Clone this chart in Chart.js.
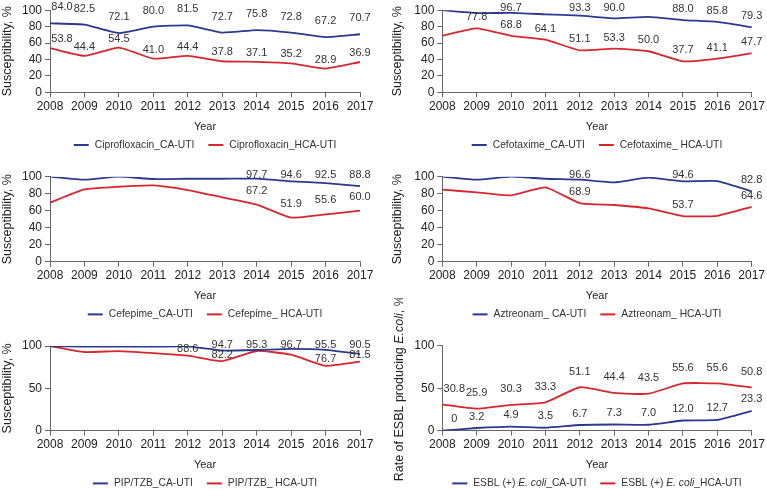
<!DOCTYPE html>
<html>
<head>
<meta charset="utf-8">
<script src="https://cdn.jsdelivr.net/npm/chart.js@4.4.0/dist/chart.umd.min.js"></script>
<style>
    body { margin: 0; background: #fff; }
    #wrap { position: relative; width: 767px; height: 490px; }
    .panel { position: absolute; }
</style>
</head>
<body>
<div id="wrap">
    <div class="panel" style="left:0;top:0;width:385px;height:160px"><canvas id="c1"></canvas></div>
    <div class="panel" style="left:385px;top:0;width:382px;height:160px"><canvas id="c2"></canvas></div>
    <div class="panel" style="left:0;top:160px;width:385px;height:160px"><canvas id="c3"></canvas></div>
    <div class="panel" style="left:385px;top:160px;width:382px;height:160px"><canvas id="c4"></canvas></div>
    <div class="panel" style="left:0;top:320px;width:385px;height:170px"><canvas id="c5"></canvas></div>
    <!-- taller so the long y title can reach up past the row -->
    <div class="panel" style="left:385px;top:298px;width:382px;height:192px"><canvas id="c6"></canvas></div>
</div>
<script>
var years = ['2008', '2009', '2010', '2011', '2012', '2013', '2014', '2015', '2016', '2017'];

// Ciprofloxacin
var cipCA = [84.0, 82.5, 72.1, 80.0, 81.5, 72.7, 75.8, 72.8, 67.2, 70.7];
var cipHCA = [53.8, 44.4, 54.5, 41.0, 44.4, 37.8, 37.1, 35.2, 28.9, 36.9];
var cipCALabels = ['84.0', '82.5', '72.1', '80.0', '81.5', '72.7', '75.8', '72.8', '67.2', '70.7'];
var cipHCALabels = ['53.8', '44.4', '54.5', '41.0', '44.4', '37.8', '37.1', '35.2', '28.9', '36.9'];

// Cefotaxime
var ctxCA = [100, 96.5, 96.7, 95.0, 93.3, 90.0, 91.8, 88.0, 85.8, 79.3];
var ctxHCA = [69.0, 77.8, 68.8, 64.1, 51.1, 53.3, 50.0, 37.7, 41.1, 47.7];
var ctxCALabels = [null, null, '96.7', null, '93.3', '90.0', null, '88.0', '85.8', '79.3'];
var ctxHCALabels = [null, '77.8', '68.8', '64.1', '51.1', '53.3', '50.0', '37.7', '41.1', '47.7'];

// Cefepime
var fepCA = [100, 96.5, 100, 97.3, 97.6, 97.6, 97.7, 94.6, 92.5, 88.8];
var fepHCA = [69.5, 85.0, 88.2, 89.8, 84.3, 75.7, 67.2, 51.9, 55.6, 60.0];
var fepCALabels = [null, null, null, null, null, null, '97.7', '94.6', '92.5', '88.8'];
var fepHCALabels = [null, null, null, null, null, null, '67.2', '51.9', '55.6', '60.0'];

// Aztreonam
var aztCA = [100, 96.5, 100, 97.6, 96.6, 93.3, 98.8, 94.6, 94.9, 82.8];
var aztHCA = [84.7, 81.6, 78.0, 87.5, 68.9, 66.7, 62.7, 53.7, 54.0, 64.6];
var aztCALabels = [null, null, null, null, '96.6', null, null, '94.6', null, '82.8'];
var aztHCALabels = [null, null, null, null, '68.9', null, null, '53.7', null, '64.6'];

// PIP/TZB
var pipCA = [100, 99.2, 99.2, 99.3, 99.5, 94.7, 95.3, 96.7, 95.5, 90.5];
var pipHCA = [100, 92.9, 94.0, 91.5, 88.6, 82.2, 94.1, 89.8, 76.7, 81.5];
var pipCALabels = [null, null, null, null, null, '94.7', '95.3', '96.7', '95.5', '90.5'];
var pipHCALabels = [null, null, null, null, '88.6', '82.2', null, null, '76.7', '81.5'];

// ESBL (+) E. coli
var esblCA = [0, 3.2, 4.9, 3.5, 6.7, 7.3, 7.0, 12.0, 12.7, 23.3];
var esblHCA = [30.8, 25.9, 30.3, 33.3, 51.1, 44.4, 43.5, 55.6, 55.6, 50.8];
var esblCALabels = ['0', '3.2', '4.9', '3.5', '6.7', '7.3', '7.0', '12.0', '12.7', '23.3'];
var esblHCALabels = ['30.8', '25.9', '30.3', '33.3', '51.1', '44.4', '43.5', '55.6', '55.6', '50.8'];

var CA_COLOR = '#2b3990';
var HCA_COLOR = '#d7262d';
var AXIS = '#666';
var TXT = '#222';
var FONT = '"Liberation Sans", Arial, sans-serif';

// value labels above the lines
var pointLabels = {
    id: 'pointLabels',
    afterDatasetsDraw: function (chart, args, opts) {
        var ctx = chart.ctx;
        ctx.save();
        ctx.font = '11px ' + FONT;
        ctx.fillStyle = '#333';
        ctx.textAlign = 'center';
        ctx.textBaseline = 'middle';
        chart.data.datasets.forEach(function (ds, i) {
            var meta = chart.getDatasetMeta(i);
            (ds.pointLabels || []).forEach(function (txt, j) {
                if (txt === null) return;
                var pt = meta.data[j];
                var x = pt.x + (j === 0 ? 12 : 0);
                var y = Math.max(pt.y - ds.labelOffset, opts.minY);
                ctx.fillText(txt, x, y);
            });
        });
        ctx.restore();
    }
};

function segFont(seg, size) {
    return (seg.italic ? 'italic ' : '') + size + 'px ' + FONT;
}

function segsWidth(ctx, segs, size) {
    var w = 0;
    segs.forEach(function (s) {
        ctx.font = segFont(s, size);
        w += ctx.measureText(s.text).width;
    });
    return w;
}

function drawSegs(ctx, segs, x, y, size) {
    segs.forEach(function (s) {
        ctx.font = segFont(s, size);
        ctx.fillText(s.text, x, y);
        x += ctx.measureText(s.text).width;
    });
}

// legend under each chart, allows italic parts
var richLegend = {
    id: 'richLegend',
    afterDraw: function (chart, args, opts) {
        var ctx = chart.ctx;
        var area = chart.chartArea;
        var size = 10.3;
        ctx.save();
        ctx.textBaseline = 'middle';
        ctx.textAlign = 'left';
        var total = 0;
        opts.items.forEach(function (it, i) {
            total += 15 + 6 + segsWidth(ctx, it.segs, size) + (i > 0 ? 14 : 0);
        });
        var x = (area.left + area.right) / 2 - total / 2;
        var y = area.bottom + 52.7;
        opts.items.forEach(function (it, i) {
            if (i > 0) x += 14;
            ctx.fillStyle = it.color;
            ctx.fillRect(x, y - 1, 15, 2);
            x += 21;
            ctx.fillStyle = '#333';
            drawSegs(ctx, it.segs, x, y, size);
            x += segsWidth(ctx, it.segs, size);
        });
        ctx.restore();
    }
};

// y title with italic parts
var richTitle = {
    id: 'richTitle',
    afterDraw: function (chart, args, opts) {
        var ctx = chart.ctx;
        var area = chart.chartArea;
        var size = 12.5;
        ctx.save();
        ctx.fillStyle = TXT;
        ctx.textBaseline = 'middle';
        ctx.textAlign = 'left';
        var w = segsWidth(ctx, opts.segs, size);
        ctx.translate(opts.x, (area.top + area.bottom) / 2);
        ctx.rotate(-Math.PI / 2);
        drawSegs(ctx, opts.segs, -w / 2, 0, size);
        ctx.restore();
    }
};

function makeChart(id, ca, hca, caLabels, hcaLabels, legendItems, p) {
    var axisGrid = { display: true, drawOnChartArea: false, tickLength: 5, color: AXIS, lineWidth: 1 };
    return new Chart(document.getElementById(id), {
        type: 'line',
        data: {
            labels: years,
            datasets: [{
                data: ca,
                borderColor: CA_COLOR,
                borderWidth: 1.8,
                pointRadius: 0,
                tension: 0.15,
                pointLabels: caLabels,
                labelOffset: p.caOff
            }, {
                data: hca,
                borderColor: HCA_COLOR,
                borderWidth: 1.8,
                pointRadius: 0,
                tension: 0.15,
                pointLabels: hcaLabels,
                labelOffset: p.hcaOff
            }]
        },
        options: {
            responsive: true,
            maintainAspectRatio: false,
            animation: false,
            layout: { padding: { left: 0, top: p.top, right: p.padRight, bottom: p.padBottom } },
            plugins: {
                legend: { display: false },
                tooltip: { enabled: false },
                pointLabels: { minY: p.minY },
                richLegend: { items: legendItems },
                richTitle: p.richTitle ? p.richTitle : false
            },
            scales: {
                x: {
                    grid: axisGrid,
                    border: { display: true, color: AXIS, width: 1 },
                    ticks: { font: { family: FONT, size: 12 }, color: TXT, padding: 2, maxRotation: 0, autoSkip: false },
                    title: { display: true, text: 'Year', font: { family: FONT, size: 11 }, color: TXT, padding: 0 },
                    afterFit: function (s) { s.height = 41; }
                },
                y: {
                    min: 0,
                    max: 100,
                    grid: axisGrid,
                    border: { display: true, color: AXIS, width: 1 },
                    ticks: { stepSize: p.step, autoSkip: false, font: { family: FONT, size: 12 }, color: TXT, padding: 3 },
                    title: {
                        display: !p.richTitle,
                        text: 'Susceptibility, %',
                        font: { family: FONT, size: 12.5 },
                        color: TXT,
                        padding: { top: p.titlePad, bottom: 0 }
                    },
                    afterFit: function (s) { s.width = p.left; }
                }
            }
        },
        plugins: [pointLabels, richLegend, richTitle]
    });
}

function legend(caText, hcaText) {
    return [
        { color: CA_COLOR, segs: caText },
        { color: HCA_COLOR, segs: hcaText }
    ];
}

makeChart('c1', cipCA, cipHCA, cipCALabels, cipHCALabels,
    legend([{ text: 'Ciprofloxacin_CA-UTI' }], [{ text: 'Ciprofloxacin_HCA-UTI' }]),
    { left: 50, padRight: 25, top: 7.3, padBottom: 26.7, step: 20, caOff: 16, hcaOff: 9, minY: 5, titlePad: 0 });

makeChart('c2', ctxCA, ctxHCA, ctxCALabels, ctxHCALabels,
    legend([{ text: 'Cefotaxime_CA-UTI' }], [{ text: 'Cefotaxime_ HCA-UTI' }]),
    { left: 57.3, padRight: 14.3, top: 7.3, padBottom: 26.7, step: 20, caOff: 11, hcaOff: 11, minY: 7.5, titlePad: 5.5 });

makeChart('c3', fepCA, fepHCA, fepCALabels, fepHCALabels,
    legend([{ text: 'Cefepime_CA-UTI' }], [{ text: 'Cefepime_ HCA-UTI' }]),
    { left: 50, padRight: 25, top: 16.7, padBottom: 17.3, step: 20, caOff: 11.5, hcaOff: 14, minY: 15, titlePad: 0 });

makeChart('c4', aztCA, aztHCA, aztCALabels, aztHCALabels,
    legend([{ text: 'Aztreonam_ CA-UTI' }], [{ text: 'Aztreonam_ HCA-UTI' }]),
    { left: 57.3, padRight: 14.3, top: 16.7, padBottom: 17.3, step: 20, caOff: 11, hcaOff: 11, minY: 14.5, titlePad: 5.5 });

makeChart('c5', pipCA, pipHCA, pipCALabels, pipHCALabels,
    legend([{ text: 'PIP/TZB_CA-UTI' }], [{ text: 'PIP/TZB_ HCA-UTI' }]),
    { left: 50, padRight: 25, top: 26, padBottom: 18.3, step: 50, caOff: 9, hcaOff: 6.5, minY: 25, titlePad: 0 });

makeChart('c6', esblCA, esblHCA, esblCALabels, esblHCALabels,
    legend([{ text: 'ESBL (+) ' }, { text: 'E. coli', italic: true }, { text: '_CA-UTI' }],
           [{ text: 'ESBL (+) ' }, { text: 'E. coli', italic: true }, { text: '_HCA-UTI' }]),
    { left: 57.3, padRight: 14.3, top: 47.7, padBottom: 18.3, step: 50, caOff: 11.5, hcaOff: 15.5, minY: 0, titlePad: 5.5,
      richTitle: { x: 15, segs: [{ text: 'Rate of ESBL producing ' }, { text: 'E.coli', italic: true }, { text: ', %' }] } });
</script>
</body>
</html>
